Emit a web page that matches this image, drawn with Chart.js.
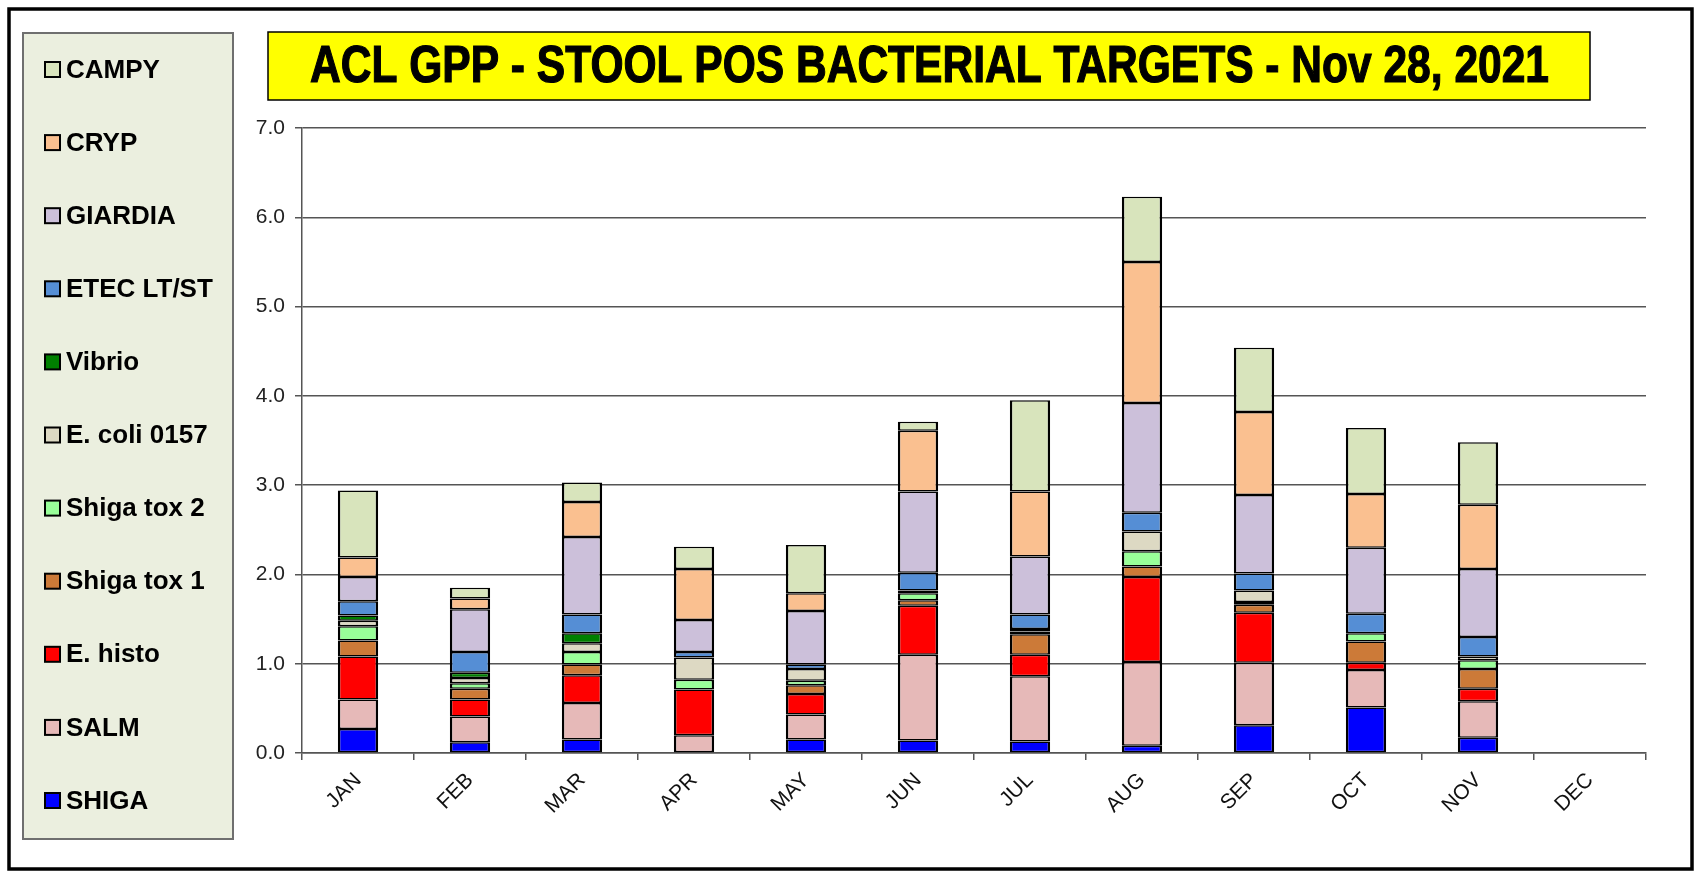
<!DOCTYPE html>
<html>
<head>
<meta charset="utf-8">
<script src="https://cdn.jsdelivr.net/npm/chart.js@4.4.0/dist/chart.umd.min.js"></script>
<style>
  html, body { margin: 0; padding: 0; background: #ffffff; }
  #wrap { width: 1696px; height: 872px; position: relative; }
  canvas { display: block; }
</style>
</head>
<body>
<div id="wrap"><canvas id="c" width="1696" height="872"></canvas></div>
<script>
// ---- Data ----
const months = ['JAN','FEB','MAR','APR','MAY','JUN','JUL','AUG','SEP','OCT','NOV','DEC'];
const titleText = 'ACL GPP - STOOL POS BACTERIAL TARGETS - Nov 28, 2021';
const yTicks = [0, 1, 2, 3, 4, 5, 6, 7];

const SHIGA   = [0.27, 0.12, 0.15, null, 0.15, 0.14, 0.13, 0.08, 0.31, 0.51, 0.17, null];
const SALM    = [0.33, 0.29, 0.41, 0.20, 0.28, 0.96, 0.73, 0.94, 0.70, 0.42, 0.41, null];
const EHISTO  = [0.48, 0.19, 0.31, 0.51, 0.23, 0.55, 0.24, 0.95, 0.56, 0.08, 0.14, null];
const STX1    = [0.18, 0.12, 0.12, null, 0.10, 0.06, 0.23, 0.12, 0.09, 0.24, 0.22, null];
const STX2    = [0.16, 0.06, 0.14, 0.11, 0.05, 0.08, 0.03, 0.17, 0.03, 0.09, 0.10, null];
const ECOLI   = [0.06, 0.06, 0.10, 0.25, 0.13, 0.03, 0.03, 0.22, 0.13, null, 0.04, null];
const VIBRIO  = [0.06, 0.06, 0.11, null, null, null, null, null, null, null, null, null];
const ETEC    = [0.16, 0.23, 0.21, 0.06, 0.05, 0.20, 0.16, 0.21, 0.19, 0.22, 0.22, null];
const GIARDIA = [0.27, 0.48, 0.87, 0.36, 0.60, 0.91, 0.65, 1.23, 0.88, 0.74, 0.76, null];
const CRYP    = [0.22, 0.12, 0.39, 0.57, 0.20, 0.68, 0.73, 1.58, 0.93, 0.60, 0.72, null];
const CAMPY   = [0.75, 0.12, 0.22, 0.25, 0.54, 0.10, 1.02, 0.73, 0.72, 0.74, 0.70, null];

const seriesNames  = ['SHIGA','SALM','E. histo','Shiga tox 1','Shiga tox 2','E. coli 0157','Vibrio','ETEC LT/ST','GIARDIA','CRYP','CAMPY'];
const seriesValues = [SHIGA, SALM, EHISTO, STX1, STX2, ECOLI, VIBRIO, ETEC, GIARDIA, CRYP, CAMPY];
const seriesColors = ['#0000FF','#E6B9B8','#FF0000','#CC7A38','#99FF99','#DDD9C3','#008000','#558ED5','#CCC0DA','#FAC090','#D8E4BC'];

const FONT = '"Liberation Sans", Arial, Helvetica, sans-serif';

const datasets = seriesNames.map((name, i) => ({
  label: name,
  data: seriesValues[i],
  backgroundColor: seriesColors[i],
  borderColor: '#000000',
  borderWidth: { top: 1.5, bottom: 1.5, left: 2.5, right: 2.5 },
  borderSkipped: false,
  inflateAmount: 0,
  categoryPercentage: 1.0,
  barPercentage: 0.36
}));

// ---- Decorations: frame, legend panel, title box ----
const framePlugin = {
  id: 'framePlugin',
  beforeDraw(chart) {
    const ctx = chart.ctx;
    ctx.save();
    ctx.fillStyle = '#ffffff';
    ctx.fillRect(0, 0, chart.width, chart.height);
    // outer frame
    ctx.strokeStyle = '#000000';
    ctx.lineWidth = 3.5;
    ctx.strokeRect(9, 9, 1683, 860);
    // legend panel
    ctx.fillStyle = '#EBEFDF';
    ctx.fillRect(23, 33, 210, 806);
    ctx.strokeStyle = '#6f6f6f';
    ctx.lineWidth = 2;
    ctx.strokeRect(23, 33, 210, 806);
    // title box
    ctx.fillStyle = '#FFFF00';
    ctx.fillRect(268, 32, 1322, 68);
    ctx.strokeStyle = '#000000';
    ctx.lineWidth = 1.5;
    ctx.strokeRect(268, 32, 1322, 68);
    ctx.restore();
  },
  afterDraw(chart) {
    const ctx = chart.ctx;
    ctx.save();
    // Title text (condensed bold), fitted to the reference width
    ctx.font = 'bold 51px "Liberation Sans Narrow", "Arial Narrow", ' + FONT;
    ctx.fillStyle = '#000000';
    ctx.strokeStyle = '#000000';
    ctx.lineWidth = 1.2;
    ctx.textBaseline = 'middle';
    ctx.textAlign = 'center';
    const w = ctx.measureText(titleText).width;
    const targetW = 1239;
    const sx = targetW / w;
    ctx.translate(929.5, 68);
    ctx.scale(sx, 1);
    ctx.fillText(titleText, 0, 0);
    ctx.strokeText(titleText, 0, 0);
    ctx.restore();

    // Legend entries (top = last dataset)
    ctx.save();
    ctx.font = 'bold 26px ' + FONT;
    ctx.textBaseline = 'middle';
    ctx.textAlign = 'left';
    const ds = chart.data.datasets;
    for (let k = 0; k < ds.length; k++) {
      const d = ds[ds.length - 1 - k];
      const cy = 69.5 + 73.1 * k;
      ctx.fillStyle = d.backgroundColor;
      ctx.fillRect(45, cy - 7.5, 15, 15);
      ctx.strokeStyle = '#000000';
      ctx.lineWidth = 2;
      ctx.strokeRect(45, cy - 7.5, 15, 15);
      ctx.fillStyle = '#000000';
      ctx.fillText(d.label, 66, cy + 1);
    }
    ctx.restore();
  }
};

new Chart(document.getElementById('c'), {
  type: 'bar',
  data: { labels: months, datasets: datasets },
  options: {
    responsive: false,
    devicePixelRatio: 1,
    animation: false,
    layout: { padding: { left: 240, right: 50, top: 128, bottom: 59 } },
    plugins: {
      legend: { display: false },
      title: { display: false },
      tooltip: { enabled: false }
    },
    scales: {
      x: {
        stacked: true,
        offset: true,
        grid: {
          offset: true,
          drawOnChartArea: false,
          drawTicks: true,
          tickLength: 7,
          color: '#555555',
          lineWidth: 1.5
        },
        border: { color: '#555555', width: 1.5 },
        ticks: {
          minRotation: 45,
          maxRotation: 45,
          autoSkip: false,
          padding: 8,
          color: '#111111',
          font: { family: FONT, size: 21 }
        },
        afterFit(scale) { scale.height = 60; }
      },
      y: {
        stacked: true,
        min: 0,
        max: 7,
        afterBuildTicks(scale) { scale.ticks = yTicks.map(v => ({ value: v })); },
        ticks: {
          padding: 10,
          color: '#222222',
          font: { family: FONT, size: 21 },
          callback: (v) => Number(v).toFixed(1)
        },
        grid: {
          color: '#555555',
          lineWidth: 1.5,
          tickLength: 7,
          drawTicks: true
        },
        border: { color: '#555555', width: 1.5 },
        afterFit(scale) { scale.width = 62; }
      }
    }
  },
  plugins: [framePlugin]
});
</script>
</body>
</html>
